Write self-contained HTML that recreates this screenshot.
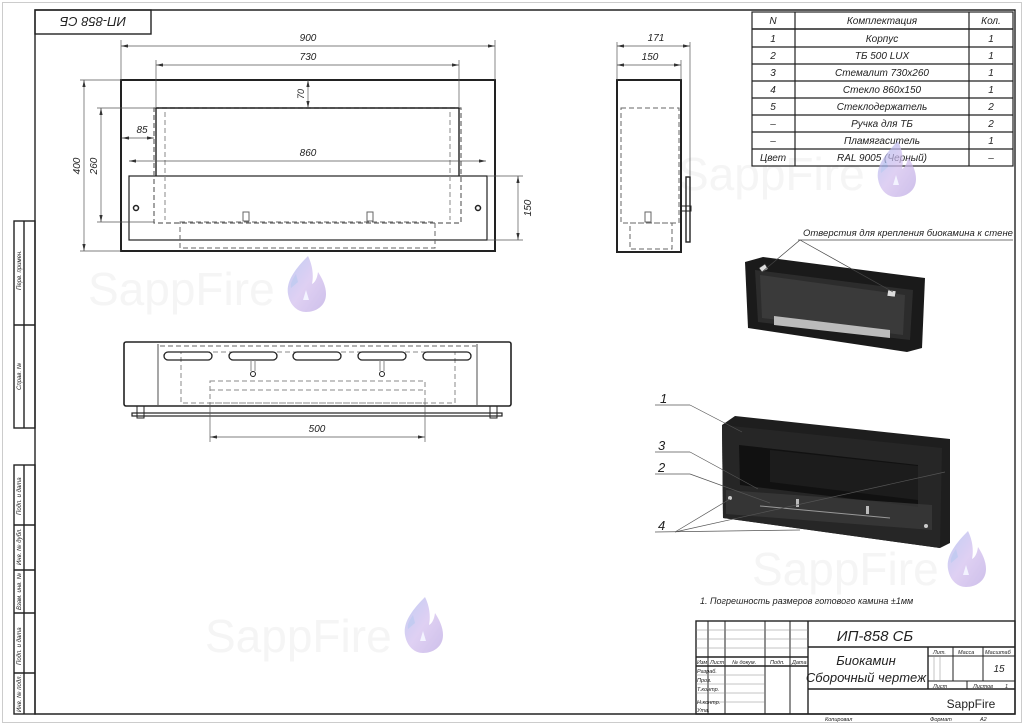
<!DOCTYPE html>
<html><head><meta charset="utf-8"><style>
html,body{margin:0;padding:0;background:#fff;}
svg{display:block;}
text{font-family:"Liberation Sans","DejaVu Sans",sans-serif;font-style:italic;fill:#222;}
.wm{font-family:"Liberation Sans",sans-serif;font-style:normal;fill:#f5f5f5;font-size:46px;}
</style></head><body>
<svg width="1024" height="725" viewBox="0 0 1024 725" xmlns="http://www.w3.org/2000/svg">
<defs>
<linearGradient id="fg" x1="0" y1="0" x2="1" y2="1">
<stop offset="0" stop-color="#a8b8f0"/><stop offset="0.5" stop-color="#d2bdee"/><stop offset="1" stop-color="#b9a5e2"/></linearGradient>
<g id="flame" opacity="0.7">
<path d="M22 0 C8 14 0 26 2 38 C4 50 12 56 20 56 C30 56 40 50 40 38 C40 30 36 22 32 16 C31 24 28 27 26 28 C28 18 26 8 22 0 Z" fill="url(#fg)"/>
<path d="M20 34 L23 44 L17 44 Z" fill="#eef"/>
<path d="M10 18 C6 24 4 28 5 32 L12 26 Z" fill="#aab6ec"/>
</g>
<g id="arr"><path d="M0 0 L7 -1.6 L7 1.6 Z" fill="#333"/></g>
</defs>
<rect x="0" y="0" width="1024" height="725" fill="#fff"/>
<rect x="2.5" y="2.5" width="1019" height="720" fill="none" stroke="#ccc" stroke-width="1"/>

<text class="wm" x="88" y="305">SappFire</text>
<text class="wm" x="678" y="190">SappFire</text>
<text class="wm" x="752" y="585">SappFire</text>
<text class="wm" x="205" y="652">SappFire</text>

<g fill="none" stroke="#222" stroke-width="1.4">
<path d="M35 10 H1015 V714 H35 Z"/>
<rect x="35" y="10" width="116" height="24"/>
<rect x="14" y="221" width="21" height="207"/><line x1="24" y1="221" x2="24" y2="428"/><line x1="14" y1="325" x2="35" y2="325"/>
<rect x="14" y="465" width="21" height="249"/><line x1="24" y1="465" x2="24" y2="714"/>
<line x1="14" y1="525" x2="35" y2="525"/><line x1="14" y1="570" x2="35" y2="570"/><line x1="14" y1="613" x2="35" y2="613"/><line x1="14" y1="673" x2="35" y2="673"/>
</g>
<text x="93" y="27" font-size="13" text-anchor="middle" transform="rotate(180 93 22)">ИП-858 СБ</text>
<g font-size="6" fill="#555">
<text transform="translate(21 290) rotate(-90)">Перв. примен.</text>
<text transform="translate(21 390) rotate(-90)">Справ. №</text>
<text transform="translate(21 515) rotate(-90)">Подп. и дата</text>
<text transform="translate(21 565) rotate(-90)">Инв. № дубл.</text>
<text transform="translate(21 610) rotate(-90)">Взам. инв. №</text>
<text transform="translate(21 665) rotate(-90)">Подп. и дата</text>
<text transform="translate(21 712) rotate(-90)">Инв. № подл.</text>
</g>

<g fill="none" stroke="#222">
<rect x="121" y="80" width="374" height="171" stroke-width="2"/>
<rect x="129" y="176" width="358" height="64" stroke-width="1.2"/>
<rect x="154" y="108" width="307" height="115" stroke="#666" stroke-dasharray="5 3" stroke-width="1.2"/>
<line x1="156" y1="108" x2="156" y2="176" stroke-width="1.4"/><line x1="459" y1="108" x2="459" y2="176" stroke-width="1.4"/>
<line x1="156" y1="108" x2="459" y2="108" stroke-width="1.4"/>
<line x1="165" y1="112" x2="165" y2="220" stroke="#888" stroke-dasharray="5 3"/>
<line x1="450" y1="112" x2="450" y2="220" stroke="#888" stroke-dasharray="5 3"/>
<rect x="180" y="222" width="255" height="26" stroke="#666" stroke-dasharray="5 3"/>
<rect x="243" y="212" width="6" height="9" stroke="#666"/><rect x="367" y="212" width="6" height="9" stroke="#666"/>
<circle cx="136" cy="208" r="2.5" stroke-width="1.5"/><circle cx="478" cy="208" r="2.5" stroke-width="1.5"/>
</g>
<g stroke="#555" stroke-width="0.7" fill="none">
<line x1="121" y1="46" x2="495" y2="46"/><line x1="121" y1="40" x2="121" y2="80"/><line x1="495" y1="40" x2="495" y2="80"/>
<line x1="156" y1="65" x2="459" y2="65"/><line x1="156" y1="60" x2="156" y2="108"/><line x1="459" y1="60" x2="459" y2="108"/>
<line x1="308" y1="80" x2="308" y2="108"/>
<line x1="122" y1="138" x2="154" y2="138"/>
<line x1="129" y1="161" x2="486" y2="161"/>
<line x1="84" y1="80" x2="84" y2="251"/><line x1="80" y1="80" x2="121" y2="80"/><line x1="80" y1="251" x2="121" y2="251"/>
<line x1="101" y1="108" x2="101" y2="222"/><line x1="97" y1="108" x2="154" y2="108"/><line x1="97" y1="222" x2="154" y2="222"/>
<line x1="518" y1="176" x2="518" y2="240"/><line x1="487" y1="176" x2="523" y2="176"/><line x1="487" y1="240" x2="523" y2="240"/>
</g>
<g font-size="10">
<text x="308" y="41" text-anchor="middle">900</text>
<text x="308" y="60" text-anchor="middle">730</text>
<text x="308" y="156" text-anchor="middle">860</text>
<text x="142" y="133" text-anchor="middle">85</text>
<text transform="translate(304 94) rotate(-90)" text-anchor="middle" font-size="9">70</text>
<text transform="translate(80 166) rotate(-90)" text-anchor="middle">400</text>
<text transform="translate(97 166) rotate(-90)" text-anchor="middle">260</text>
<text transform="translate(531 208) rotate(-90)" text-anchor="middle">150</text>
</g>

<g fill="none" stroke="#222">
<rect x="617" y="80" width="64" height="172" stroke-width="2"/>
<rect x="621" y="108" width="58" height="115" stroke="#666" stroke-dasharray="5 3"/>
<rect x="630" y="223" width="42" height="26" stroke="#666" stroke-dasharray="5 3"/>
<rect x="645" y="212" width="6" height="10" stroke="#666"/>
<rect x="686" y="177" width="4" height="65" stroke-width="1.4"/>
<rect x="681" y="206" width="10" height="5" stroke-width="1"/>
</g>
<g stroke="#555" stroke-width="0.7">
<line x1="617" y1="46" x2="690" y2="46"/><line x1="690" y1="42" x2="690" y2="177"/><line x1="617" y1="42" x2="617" y2="80"/>
<line x1="617" y1="65" x2="681" y2="65"/><line x1="681" y1="60" x2="681" y2="80"/>
</g>
<g font-size="10"><text x="656" y="41" text-anchor="middle">171</text><text x="650" y="60" text-anchor="middle">150</text></g>

<g fill="none" stroke="#222" stroke-width="1.2">
<rect x="752" y="12" width="261" height="154"/>
<line x1="795" y1="12" x2="795" y2="166"/><line x1="969" y1="12" x2="969" y2="166"/>
<line x1="752" y1="29" x2="1013" y2="29" stroke-width="1.6"/>
<line x1="752" y1="47" x2="1013" y2="47"/><line x1="752" y1="64" x2="1013" y2="64"/>
<line x1="752" y1="81" x2="1013" y2="81"/><line x1="752" y1="98" x2="1013" y2="98"/>
<line x1="752" y1="115" x2="1013" y2="115"/><line x1="752" y1="132" x2="1013" y2="132"/>
<line x1="752" y1="149" x2="1013" y2="149"/>
</g>
<g font-size="10" text-anchor="middle">
<text x="773" y="24">N</text><text x="882" y="24">Комплектация</text><text x="991" y="24">Кол.</text>
<text x="773" y="42">1</text><text x="882" y="42">Корпус</text><text x="991" y="42">1</text>
<text x="773" y="59">2</text><text x="882" y="59">ТБ 500 LUX</text><text x="991" y="59">1</text>
<text x="773" y="76">3</text><text x="882" y="76">Стемалит 730х260</text><text x="991" y="76">1</text>
<text x="773" y="93">4</text><text x="882" y="93">Стекло 860х150</text><text x="991" y="93">1</text>
<text x="773" y="110">5</text><text x="882" y="110">Стеклодержатель</text><text x="991" y="110">2</text>
<text x="773" y="127">–</text><text x="882" y="127">Ручка для ТБ</text><text x="991" y="127">2</text>
<text x="773" y="144">–</text><text x="882" y="144">Пламягаситель</text><text x="991" y="144">1</text>
<text x="773" y="161">Цвет</text><text x="882" y="161">RAL 9005 (Черный)</text><text x="991" y="161">–</text>
</g>

<g fill="none" stroke="#222">
<rect x="124" y="342" width="387" height="64" rx="2" stroke-width="1.6"/>
<line x1="158" y1="344" x2="158" y2="405" stroke-width="0.8"/><line x1="477" y1="344" x2="477" y2="405" stroke-width="0.8"/>
<line x1="160" y1="346" x2="476" y2="346" stroke="#666" stroke-dasharray="5 3"/>
<rect x="181" y="352" width="274" height="51" stroke="#888" stroke-dasharray="5 3"/>
<rect x="210" y="381" width="215" height="22" stroke="#888" stroke-dasharray="5 3"/>
<line x1="210" y1="390" x2="425" y2="390" stroke="#888" stroke-dasharray="5 3"/>
<rect x="164" y="352" width="48" height="8" rx="4" stroke-width="1.3"/>
<rect x="229" y="352" width="48" height="8" rx="4" stroke-width="1.3"/>
<rect x="293" y="352" width="48" height="8" rx="4" stroke-width="1.3"/>
<rect x="358" y="352" width="48" height="8" rx="4" stroke-width="1.3"/>
<rect x="423" y="352" width="48" height="8" rx="4" stroke-width="1.3"/>
<circle cx="253" cy="374" r="2.5"/><circle cx="382" cy="374" r="2.5"/>
<line x1="251" y1="360" x2="251" y2="371" stroke="#888"/><line x1="255" y1="360" x2="255" y2="371" stroke="#888"/>
<line x1="380" y1="360" x2="380" y2="371" stroke="#888"/><line x1="384" y1="360" x2="384" y2="371" stroke="#888"/>
<rect x="132" y="413" width="370" height="3" stroke-width="1.2"/>
<rect x="137" y="406" width="7" height="12" stroke-width="1"/><rect x="490" y="406" width="7" height="12" stroke-width="1"/>
</g>
<g stroke="#555" stroke-width="0.7"><line x1="210" y1="437" x2="425" y2="437"/><line x1="210" y1="403" x2="210" y2="442"/><line x1="425" y1="403" x2="425" y2="442"/></g>
<text x="317" y="432" font-size="10" text-anchor="middle">500</text>

<use href="#arr" transform="translate(121 46)"/><use href="#arr" transform="translate(495 46) rotate(180)"/>
<use href="#arr" transform="translate(156 65)"/><use href="#arr" transform="translate(459 65) rotate(180)"/>
<use href="#arr" transform="translate(129 161)"/><use href="#arr" transform="translate(486 161) rotate(180)"/>
<use href="#arr" transform="translate(122 138)"/><use href="#arr" transform="translate(154 138) rotate(180)"/>
<use href="#arr" transform="translate(308 80) rotate(90)"/><use href="#arr" transform="translate(308 108) rotate(-90)"/>
<use href="#arr" transform="translate(84 80) rotate(90)"/><use href="#arr" transform="translate(84 251) rotate(-90)"/>
<use href="#arr" transform="translate(101 108) rotate(90)"/><use href="#arr" transform="translate(101 222) rotate(-90)"/>
<use href="#arr" transform="translate(518 176) rotate(90)"/><use href="#arr" transform="translate(518 240) rotate(-90)"/>
<use href="#arr" transform="translate(617 46)"/><use href="#arr" transform="translate(690 46) rotate(180)"/>
<use href="#arr" transform="translate(617 65)"/><use href="#arr" transform="translate(681 65) rotate(180)"/>
<use href="#arr" transform="translate(210 437)"/><use href="#arr" transform="translate(425 437) rotate(180)"/>

<polygon points="745,262 763,257 925,278 922,348 907,352 748,328" fill="#1a1a1a"/>
<polygon points="755,270 913,290 910,340 758,322" fill="#2c2c2c"/>
<polygon points="760,275 905,295 903,335 762,318" fill="#3a3a3a"/>
<polygon points="774,316 890,330 890,338 774,325" fill="#bbb"/>
<path d="M759 268 l6 -4 3 5 -6 3z M888 290 l8 1 -1 6 -8 -1z" fill="#ddd" stroke="#333" stroke-width="0.6"/>
<text x="803" y="236" font-size="9.5">Отверстия для крепления биокамина к стене</text>
<g stroke="#444" stroke-width="0.7"><line x1="798" y1="240" x2="1013" y2="240"/><line x1="800" y1="240" x2="762" y2="272"/><line x1="800" y1="240" x2="893" y2="292"/></g>

<polygon points="722,425 735,416 950,439 950,543 940,548 723,518" fill="#1e1e1e"/>
<polygon points="722,425 942,448 940,548 723,518" fill="#262626"/>
<polygon points="739,445 918,465 918,507 740,485" fill="#111"/>
<polygon points="770,450 918,466 918,500 770,482" fill="#1c1c1c"/>
<polygon points="726,490 932,505 932,530 726,514" fill="#3a3a3a" opacity="0.8"/>
<line x1="760" y1="506" x2="890" y2="518" stroke="#999" stroke-width="1"/>
<rect x="796" y="499" width="3" height="8" fill="#bbb"/><rect x="866" y="506" width="3" height="8" fill="#bbb"/>
<circle cx="730" cy="498" r="2" fill="#ccc"/><circle cx="926" cy="526" r="2" fill="#ccc"/>
<g stroke="#555" stroke-width="0.7" fill="none">
<line x1="655" y1="405" x2="690" y2="405"/><line x1="690" y1="405" x2="742" y2="432"/>
<line x1="655" y1="452" x2="690" y2="452"/><line x1="690" y1="452" x2="758" y2="489"/>
<line x1="655" y1="474" x2="690" y2="474"/><line x1="690" y1="474" x2="770" y2="503"/>
<line x1="655" y1="532" x2="800" y2="530"/><line x1="675" y1="532" x2="730" y2="499"/><line x1="675" y1="532" x2="945" y2="472"/>
</g>
<g font-size="13"><text x="660" y="403">1</text><text x="658" y="450">3</text><text x="658" y="472">2</text><text x="658" y="530">4</text></g>
<text x="700" y="604" font-size="9">1. Погрешность размеров готового камина ±1мм</text>

<g fill="none" stroke="#222" stroke-width="1.4">
<rect x="696" y="621" width="319" height="93"/>
<line x1="808" y1="621" x2="808" y2="714"/>
<line x1="808" y1="647" x2="1015" y2="647"/>
<line x1="808" y1="689" x2="1015" y2="689"/>
<line x1="928" y1="647" x2="928" y2="689"/>
<line x1="928" y1="656" x2="1015" y2="656" stroke-width="1"/>
<line x1="928" y1="681" x2="1015" y2="681" stroke-width="1"/>
<line x1="953" y1="647" x2="953" y2="681" stroke-width="1"/><line x1="983" y1="647" x2="983" y2="681" stroke-width="1"/>
<line x1="967" y1="681" x2="967" y2="689" stroke-width="1"/>
<line x1="708" y1="621" x2="708" y2="714" stroke-width="1"/>
<line x1="725" y1="621" x2="725" y2="714" stroke-width="1"/>
<line x1="765" y1="621" x2="765" y2="714" stroke-width="1"/>
<line x1="790" y1="621" x2="790" y2="714" stroke-width="1"/>
<line x1="696" y1="657" x2="808" y2="657" stroke-width="1.4"/>
<line x1="696" y1="666" x2="808" y2="666" stroke-width="1.4"/>
</g>
<g stroke="#888" stroke-width="0.5">
<line x1="696" y1="630" x2="808" y2="630"/><line x1="696" y1="639" x2="808" y2="639"/><line x1="696" y1="648" x2="808" y2="648"/>
<line x1="696" y1="675" x2="765" y2="675"/><line x1="696" y1="684" x2="765" y2="684"/><line x1="696" y1="693" x2="765" y2="693"/><line x1="696" y1="702" x2="765" y2="702"/>
<line x1="934" y1="656" x2="934" y2="681"/><line x1="940" y1="656" x2="940" y2="681"/>
</g>
<g font-size="5.5">
<text x="697" y="664">Изм</text><text x="710" y="664">Лист</text><text x="732" y="664">№ докум.</text><text x="770" y="664">Подп.</text><text x="792" y="664">Дата</text>
<text x="697" y="673">Разраб.</text><text x="697" y="682">Пров.</text><text x="697" y="691">Т.контр.</text>
<text x="697" y="704">Н.контр.</text><text x="697" y="712">Утв.</text>
<text x="933" y="654">Лит.</text><text x="958" y="654">Масса</text><text x="985" y="654">Масштаб</text>
<text x="933" y="688">Лист</text><text x="973" y="688">Листов</text><text x="1005" y="688">1</text>
<text x="825" y="721">Копировал</text><text x="930" y="721">Формат</text><text x="980" y="721">А2</text>
</g>
<text x="875" y="641" font-size="15" text-anchor="middle">ИП-858 СБ</text>
<text x="866" y="665" font-size="13" text-anchor="middle">Биокамин</text>
<text x="866" y="682" font-size="13" text-anchor="middle">Сборочный чертеж</text>
<text x="999" y="672" font-size="10" text-anchor="middle">15</text>
<text x="971" y="708" font-size="12" text-anchor="middle" style="font-style:normal">SappFire</text>

<use href="#flame" transform="translate(286 256)"/>
<use href="#flame" transform="translate(876 141)"/>
<use href="#flame" transform="translate(946 531)"/>
<use href="#flame" transform="translate(403 597)"/>
</svg>
</body></html>
